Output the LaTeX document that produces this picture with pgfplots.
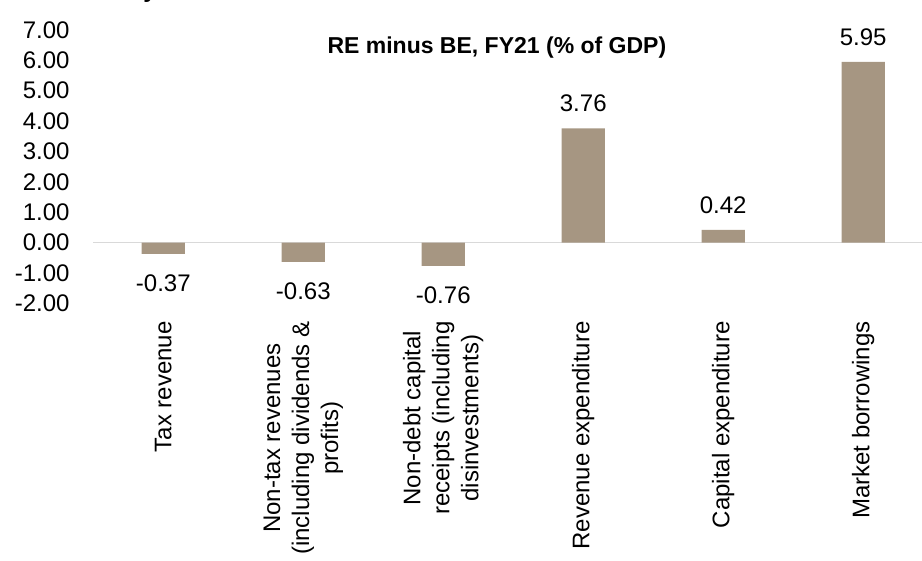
\documentclass[border=0pt]{standalone}
\usepackage{fontspec}
\setmainfont{Liberation Sans}
\usepackage{pgfplots}
\pgfplotsset{compat=1.18}
\definecolor{barcol}{RGB}{166,150,130}
\definecolor{zeroline}{RGB}{217,217,217}
\begin{document}
\begin{tikzpicture}
\begin{axis}[name=a,scale only axis,width=414.35pt,height=136.8pt,
  ymin=-2,ymax=7,ytick={-2,-1,...,7},xmin=-0.5,xmax=5.42,
  xtick={0,...,5},
  xticklabels={Tax revenue,{Non-tax revenues\\(including dividends \&\\profits)},{Non-debt capital\\receipts (including\\disinvestments)},Revenue expenditure,Capital expenditure,Market borrowings},
  axis line style={draw=none},tick style={draw=none},major tick length=0pt,
  /pgf/number format/.cd,fixed,zerofill,precision=2,assume math mode=true,/pgfplots/.cd,
  tick label style={font=\fontsize{12}{14.5}\selectfont},
  yticklabel style={inner sep=0pt,anchor=east,xshift=-11.65pt},
  xticklabel style={inner sep=0pt,rotate=90,anchor=east,align=center,xshift=-8.75pt},
  extra y ticks={0},extra y tick labels={},
  extra y tick style={grid=major,major grid style={draw=zeroline,line width=0.75pt}},
  clip=false]
\addplot[ybar,bar width=21.65pt,bar shift=0pt,fill=barcol,draw=none,
  point meta=y,nodes near coords,
  visualization depends on={y \as \yval},
  every node near coord/.style={font=\fontsize{12}{14.5}\selectfont,inner sep=0pt,anchor=center,
    yshift={(\yval>0 ? 12.5 : -14.5)*1pt}}]
  coordinates {(0,-0.37)(1,-0.63)(2,-0.76)(3,3.76)(4,0.42)(5,5.95)};
\node[anchor=base,font=\bfseries\fontsize{11.5}{14}\selectfont] at (rel axis cs:0.487,0.9145) {RE minus BE, FY21 (\% of GDP)};
\end{axis}
\node[anchor=base,font=\bfseries\fontsize{12}{14}\selectfont] at ([xshift=28.35pt,yshift=16pt]a.north west) {y};
\pgfresetboundingbox
\path[use as bounding box] ([xshift=-46.65pt,yshift=-128.75pt]a.south west) rectangle ([yshift=14.95pt]a.north east);
\end{tikzpicture}
\end{document}
